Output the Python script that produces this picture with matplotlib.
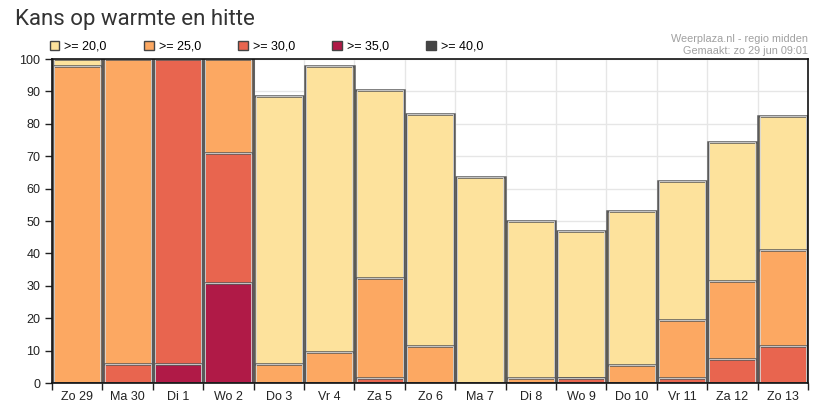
import numpy as np
import matplotlib
matplotlib.use("Agg")
import matplotlib.pyplot as plt
from matplotlib.patches import Rectangle

days = ["Zo 29", "Ma 30", "Di 1", "Wo 2", "Do 3", "Vr 4", "Za 5", "Zo 6",
        "Ma 7", "Di 8", "Wo 9", "Do 10", "Vr 11", "Za 12", "Zo 13"]
labels = [">= 20,0", ">= 25,0", ">= 30,0", ">= 35,0", ">= 40,0"]

# cumulative chances per threshold (%)
p20 = [100, 100, 100, 100, 88.5, 98, 90.5, 83, 63.5, 50, 47, 53, 62.5, 74.5, 82.5]
p25 = [98, 100, 100, 100, 6, 9.5, 32.5, 11.5, 0, 1.5, 1.5, 5.5, 19.5, 31.5, 41]
p30 = [0, 6, 100, 71, 0, 0, 1.5, 0, 0, 0, 1.5, 0, 1.5, 7.5, 11.5]
p35 = [0, 0, 6, 31, 0, 0, 0, 0, 0, 0, 0, 0, 0, 0, 0]
p40 = [0, 0, 0, 0, 0, 0, 0, 0, 0, 0, 0, 0, 0, 0, 0]

colors = ["#fde29c", "#fca862", "#e8654f", "#b01a47", "#444444"]

plt.rcParams['font.family'] = ['Liberation Sans', 'DejaVu Sans']

fig = plt.figure(figsize=(8.18, 4.16), dpi=100)
ax = fig.add_axes([0.0636, 0.0793, 0.9242, 0.7787])

x = np.arange(len(days))
for vals, c, lab in zip([p20, p25, p30, p35, p40], colors, labels):
    ax.bar(x, vals, width=0.97, color=c, edgecolor="#5a5a5a", linewidth=1.8,
           label=lab, zorder=3)
    # light inner edge
    ax.bar(x, vals, width=0.91, color="none", edgecolor="#d8d8d8",
           linewidth=0.6, zorder=3)

ax.set_xlim(-0.5, len(days) - 0.5)
ax.set_ylim(0, 100)
ax.set_yticks(np.arange(0, 101, 10))
ax.set_xticks(np.arange(-0.5, len(days), 1))
ax.set_xticklabels([])
ax.set_xticks(x, minor=True)
ax.set_xticklabels(days, minor=True)
ax.tick_params(axis="x", which="minor", length=0, pad=6, labelsize=9, colors="#222")
ax.tick_params(axis="x", which="major", length=5, width=1, color="#222")
ax.tick_params(axis="y", length=5, width=1, labelsize=9, colors="#222")
ax.grid(True, which="major", color="#e6e6e6", linewidth=1, zorder=0)
for s in ax.spines.values():
    s.set_color("#111")
    s.set_linewidth(1.2)
    s.set_zorder(5)

handles = [Rectangle((0, 0), 1, 1, facecolor=c, edgecolor="#444", linewidth=1)
           for c in colors]
ax.legend(handles, labels, ncol=5, loc="lower left", bbox_to_anchor=(-0.006, 1.012),
          frameon=False, fontsize=9, handlelength=0.75, handleheight=0.75,
          handletextpad=0.4, columnspacing=3.0, borderpad=0.1, borderaxespad=0.1)

fig.text(0.018, 0.94, "Kans op warmte en hitte", fontsize=16, color="#333",
         family=["Roboto", "DejaVu Sans"], va="baseline")
fig.text(0.988, 0.898, "Weerplaza.nl - regio midden", fontsize=7.8, color="#a0a0a0",
         ha="right", va="baseline")
fig.text(0.988, 0.871, "Gemaakt: zo 29 jun 09:01", fontsize=7.8, color="#a0a0a0",
         ha="right", va="baseline")

fig.savefig("out.png", dpi=100)
